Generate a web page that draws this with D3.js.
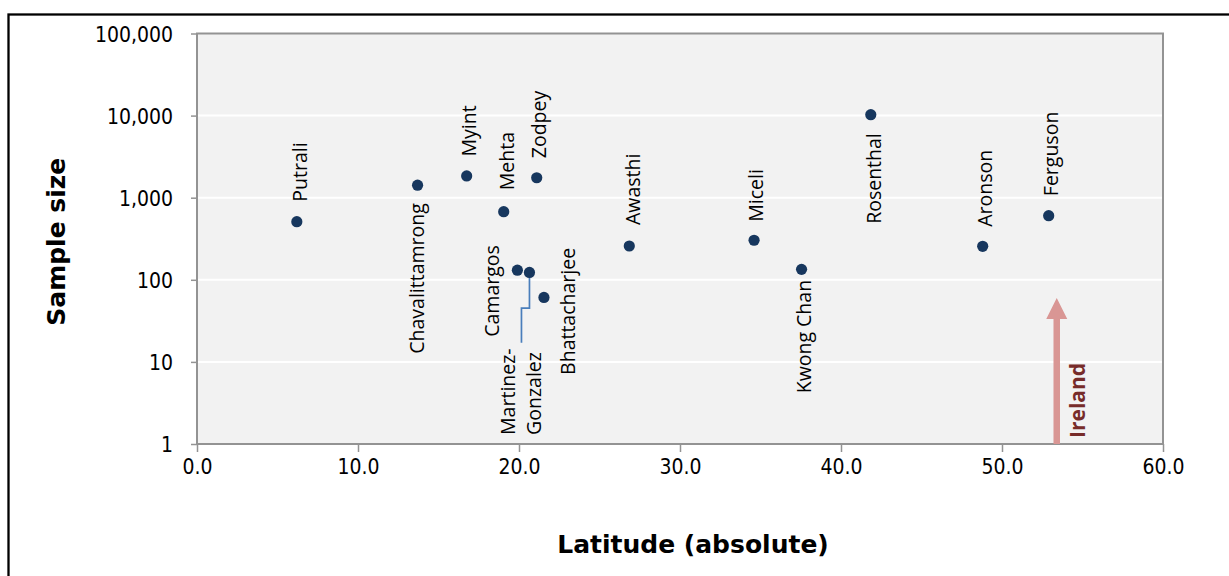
<!DOCTYPE html>
<html>
<head>
<meta charset="utf-8">
<script src="https://cdn.jsdelivr.net/npm/d3@7"></script>
<style>
  html, body { margin: 0; padding: 0; background: #fff; }
  svg { display: block; }
</style>
</head>
<body>
<svg id="chart" width="1229" height="576"></svg>
<script>
// ---- data ----
const studies = ["Putrali", "Chavalittamrong", "Myint", "Mehta", "Zodpey", "Camargos",
  "Martinez-Gonzalez", "Bhattacharjee", "Awasthi", "Miceli", "Kwong Chan", "Rosenthal",
  "Aronson", "Ferguson"];
const latitude = [6.2, 13.7, 16.75, 19.05, 21.1, 19.9, 20.65, 21.55, 26.85, 34.6, 37.55, 41.85, 48.8, 52.9];
const sampleSize = [510, 1420, 1840, 675, 1750, 131, 123, 61, 258, 303, 134, 10250, 256, 604];
const xTickValues = [0, 10, 20, 30, 40, 50, 60];
const yTickValues = [1, 10, 100, 1000, 10000, 100000];
const irelandLatitude = 53.4;
const irelandArrowTo = 60;
const xTitle = "Latitude (absolute)";
const yTitle = "Sample size";
const irelandLabel = "Ireland";

// ---- label placement (style: offsets in rotated frame; a = up from dot, b = baseline to the right) ----
const labelPlacement = {
  "Putrali": {a: 20, b: 10, anchor: "start"},
  "Chavalittamrong": {a: -18, b: 6, anchor: "end"},
  "Myint": {a: 19.5, b: 9, anchor: "start"},
  "Mehta": {a: 21.5, b: 10, anchor: "start"},
  "Zodpey": {a: 19.5, b: 9, anchor: "start"},
  "Camargos": {a: 25, b: -18, anchor: "end"},
  "Martinez-Gonzalez": {a: -162.5, b: -14, anchor: "start", lines: ["Martinez-", "Gonzalez"], lineGap: 26},
  "Bhattacharjee": {a: -77.5, b: 31, anchor: "start"},
  "Awasthi": {a: 21, b: 10.5, anchor: "start"},
  "Miceli": {a: 18.5, b: 9, anchor: "start"},
  "Kwong Chan": {a: -10.5, b: 9, anchor: "end"},
  "Rosenthal": {a: -18.5, b: 10, anchor: "end"},
  "Aronson": {a: 19.5, b: 9, anchor: "start"},
  "Ferguson": {a: 19.5, b: 9, anchor: "start"}
};
const leaderOffsets = {"Martinez-Gonzalez": [[0, 0], [0, 35.7], [-8, 35.7], [-8, 70.4]]};

// ---- layout ----
const svg = d3.select("#chart");
const plot = {left: 197, right: 1163, top: 33.5, bottom: 444};
const x = d3.scaleLinear().domain([0, 60]).range([plot.left, plot.right]);
const y = d3.scaleLog().domain([1, 100000]).range([plot.bottom, plot.top]);

// outer frame
svg.append("rect").attr("x", 8.5).attr("y", 14.5).attr("width", 1240).attr("height", 600)
  .attr("fill", "none").attr("stroke", "#000").attr("stroke-width", 2.3);

// plot background
svg.append("rect").attr("x", plot.left).attr("y", plot.top)
  .attr("width", plot.right - plot.left).attr("height", plot.bottom - plot.top)
  .attr("fill", "#f2f2f2");

// gridlines
svg.append("g").selectAll("line").data(yTickValues.slice(1, -1)).join("line")
  .attr("x1", plot.left).attr("x2", plot.right)
  .attr("y1", d => y(d)).attr("y2", d => y(d))
  .attr("stroke", "#fff").attr("stroke-width", 2);

// plot border
svg.append("rect").attr("x", plot.left).attr("y", plot.top)
  .attr("width", plot.right - plot.left).attr("height", plot.bottom - plot.top)
  .attr("fill", "none").attr("stroke", "#939393").attr("stroke-width", 2);

// axes
const tickFont = "'DejaVu Sans', sans-serif";
const yAxis = svg.append("g").attr("transform", `translate(${plot.left},0)`)
  .call(d3.axisLeft(y).tickValues(yTickValues).tickFormat(d3.format(",")).tickSize(6).tickSizeOuter(0));
yAxis.select(".domain").remove();
yAxis.selectAll(".tick line").attr("stroke", "#939393").attr("stroke-width", 1.5);
yAxis.selectAll(".tick text")
  .attr("x", -24 / 0.9).attr("dy", "0.36em")
  .attr("transform", "scale(0.9,1)")
  .attr("fill", "#000").style("font-family", tickFont).style("font-size", "21px");

const xAxis = svg.append("g").attr("transform", `translate(0,${plot.bottom})`)
  .call(d3.axisBottom(x).tickValues(xTickValues).tickFormat(d3.format(".1f")).tickSize(8).tickSizeOuter(0));
xAxis.select(".domain").remove();
xAxis.selectAll(".tick line").attr("stroke", "#939393").attr("stroke-width", 1.5);
xAxis.selectAll(".tick text")
  .attr("y", 15).attr("dy", "0.73em")
  .attr("transform", "scale(0.9,1)")
  .attr("fill", "#000").style("font-family", tickFont).style("font-size", "21px");

// axis titles
svg.append("text").attr("x", 693).attr("y", 553).attr("text-anchor", "middle")
  .style("font-family", "'DejaVu Sans', sans-serif").style("font-weight", "bold").style("font-size", "25px")
  .attr("fill", "#000").text(xTitle);
svg.append("text").attr("transform", `translate(64.5,${(plot.top + plot.bottom) / 2 + 3}) rotate(-90)`)
  .attr("text-anchor", "middle")
  .style("font-family", "'DejaVu Sans', sans-serif").style("font-weight", "bold").style("font-size", "25px")
  .attr("fill", "#000").text(yTitle);

// Ireland arrow
const arrowX = x(irelandLatitude);
const tipY = y(irelandArrowTo);
const headH = 21, headW = 21, shaftW = 6.5;
svg.append("path")
  .attr("d", `M${arrowX - shaftW / 2},${plot.bottom} L${arrowX - shaftW / 2},${tipY + headH}
    L${arrowX - headW / 2},${tipY + headH} L${arrowX},${tipY} L${arrowX + headW / 2},${tipY + headH}
    L${arrowX + shaftW / 2},${tipY + headH} L${arrowX + shaftW / 2},${plot.bottom} Z`)
  .attr("fill", "#d99694");
svg.append("text").attr("transform", `translate(${arrowX + 28.5},${plot.bottom - 6}) rotate(-90)`)
  .attr("text-anchor", "start")
  .style("font-family", "'Open Sans', sans-serif").style("font-weight", "bold").style("font-size", "21px")
  .attr("fill", "#772c2a").text(irelandLabel);

// leader line
studies.forEach((name, i) => {
  const off = leaderOffsets[name];
  if (!off) return;
  const cx = x(latitude[i]), cy = y(sampleSize[i]);
  svg.append("path")
    .attr("d", d3.line()(off.map(([dx, dy]) => [cx + dx, cy + dy])))
    .attr("fill", "none").attr("stroke", "#4a7ebb").attr("stroke-width", 1.7);
});

// points
svg.append("g").selectAll("circle").data(studies).join("circle")
  .attr("cx", (d, i) => x(latitude[i]))
  .attr("cy", (d, i) => y(sampleSize[i]))
  .attr("r", 5.6)
  .attr("fill", "#17375e");

// point labels
const labelG = svg.append("g")
  .style("font-family", "'Open Sans', sans-serif").style("font-size", "19.5px").attr("fill", "#000");
studies.forEach((name, i) => {
  const p = labelPlacement[name];
  const g = labelG.append("g")
    .attr("transform", `translate(${x(latitude[i])},${y(sampleSize[i])}) rotate(-90)`);
  const lines = p.lines || [name];
  lines.forEach((ln, k) => {
    g.append("text").attr("x", p.a).attr("y", p.b + k * (p.lineGap || 0))
      .attr("text-anchor", p.anchor).text(ln);
  });
});
</script>
</body>
</html>
